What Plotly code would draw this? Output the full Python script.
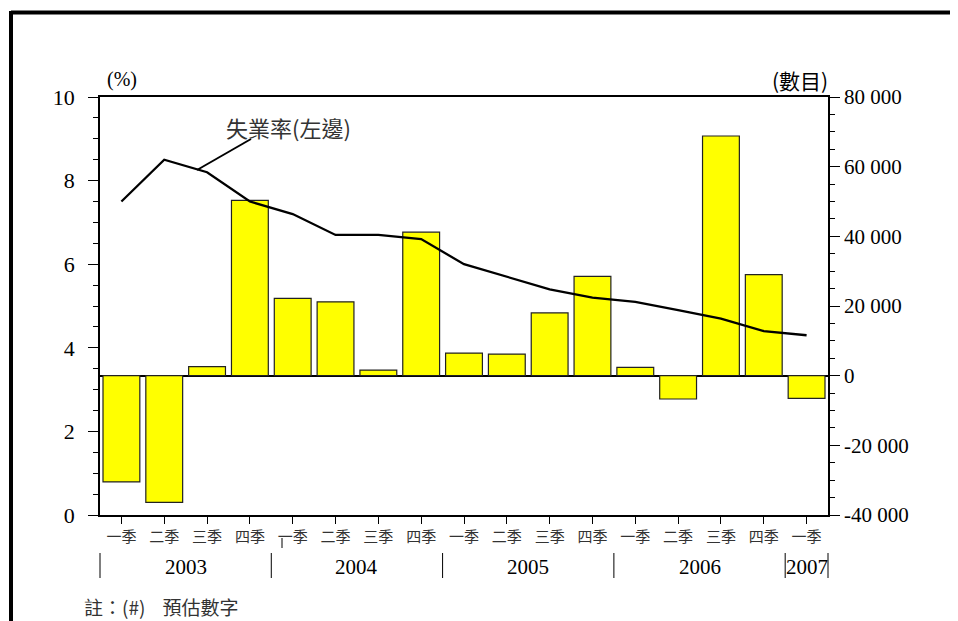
import plotly.graph_objects as go

# ---- data ----
years = ["2003"] * 4 + ["2004"] * 4 + ["2005"] * 4 + ["2006"] * 4 + ["2007"]
quarters = ["一季", "二季", "三季", "四季"] * 4 + ["一季"]
net_change = [-30500, -36400, 2600, 50300, 22200, 21200, 1600, 41200,
              6500, 6200, 18000, 28500, 2400, -6700, 68800, 29000, -6500]
unemp_rate = [7.5, 8.5, 8.2, 7.5, 7.2, 6.7, 6.7, 6.6,
              6.0, 5.7, 5.4, 5.2, 5.1, 4.9, 4.7, 4.4, 4.3]
year_groups = ["2003", "2004", "2005", "2006", "2007"]
right_ticks = [-40000, -20000, 0, 20000, 40000, 60000, 80000]
right_tick_text = ["-40 000", "-20 000", "0", "20 000", "40 000", "60 000", "80 000"]

cats = [f"{y}{q}" for y, q in zip(years, quarters)]
n = len(cats)

SERIF = "Liberation Serif, Times New Roman, serif"
CJK = "Noto Sans CJK TC, Noto Sans CJK SC, sans-serif"

fig = go.Figure()
fig.add_trace(go.Bar(
    x=cats, y=net_change, yaxis="y",
    marker=dict(color="#FFFF00", line=dict(color="#222222", width=1.2)),
    width=0.86, showlegend=False,
))
fig.add_trace(go.Scatter(
    x=cats, y=unemp_rate, yaxis="y2", mode="lines",
    line=dict(color="black", width=2.3), showlegend=False,
))

# page body has an 8px margin, so the figure is 950x613 and offset by 8px
fig.update_layout(
    width=950, height=613,
    margin=dict(l=92, r=130, t=89, b=106),
    paper_bgcolor="white", plot_bgcolor="white",
    xaxis=dict(
        type="category", range=[-0.5, n - 0.5],
        tickmode="array", tickvals=cats, ticktext=quarters,
        ticks="outside", ticklen=7, tickwidth=1, tickcolor="black",
        tickfont=dict(family=CJK, size=15, color="#333333"),
        showline=True, linecolor="black", linewidth=1.5, mirror=True,
        showgrid=False, zeroline=False,
    ),
    yaxis=dict(
        side="right", range=[-40000, 80000],
        tickmode="array", tickvals=right_ticks, ticktext=right_tick_text,
        ticks="outside", ticklen=10, tickwidth=1, tickcolor="black",
        minor=dict(ticks="outside", ticklen=5, dtick=5000, tickcolor="black", showgrid=False),
        tickfont=dict(family=SERIF, size=21, color="black"),
        showline=True, linecolor="black", linewidth=1.5,
        showgrid=False, zeroline=True, zerolinecolor="black", zerolinewidth=1.5,
    ),
    yaxis2=dict(
        side="left", overlaying="y", range=[0, 10], dtick=2,
        ticks="outside", ticklen=10, tickwidth=1, tickcolor="black",
        minor=dict(ticks="outside", ticklen=5, dtick=0.5, tickcolor="black", showgrid=False),
        tickfont=dict(family=SERIF, size=22, color="black"),
        ticklabelstandoff=9,
        showline=True, linecolor="black", linewidth=1.5,
        showgrid=False, zeroline=False,
    ),
)

def px_x(p):
    return (p - 100) / 728.0

def px_y(p):
    return (515 - p) / 418.0

def label(text, x, y, family, size, color="black", xanchor="center"):
    return dict(text=text, x=x, y=y, xref="paper", yref="paper",
                xanchor=xanchor, yanchor="middle", showarrow=False,
                font=dict(family=family, size=size, color=color))

annotations = [
    label("(%)", px_x(122), px_y(80), SERIF, 20),
    label("(數目)", px_x(800), px_y(80), CJK, 21),
    label("失業率(左邊)", px_x(288), px_y(127), CJK, 22, "#333333"),
    label("註：(#)\u00a0\u00a0\u00a0\u00a0預估數字", px_x(82), px_y(606), CJK, 19, "#333333", xanchor="left"),
]

shapes = [
    # leader line for the line label
    dict(type="line", xref="paper", yref="paper",
         x0=px_x(197), y0=px_y(170), x1=px_x(251), y1=px_y(139),
         line=dict(color="black", width=2)),
    # outer frame (left and top edges visible)
    dict(type="line", xref="paper", yref="paper",
         x0=px_x(11), y0=px_y(12.5), x1=px_x(975), y1=px_y(12.5),
         line=dict(color="black", width=4)),
    dict(type="line", xref="paper", yref="paper",
         x0=px_x(11), y0=px_y(11), x1=px_x(11), y1=px_y(640),
         line=dict(color="black", width=4)),
    # small mark near 2004 first quarter label
    dict(type="line", xref="paper", yref="paper",
         x0=px_x(282), y0=px_y(538), x1=px_x(282), y1=px_y(548),
         line=dict(color="black", width=1)),
]

# year group labels and dividers
idx = 0
bounds = [-0.5]
for g in year_groups:
    cnt = years.count(g)
    center = idx + (cnt - 1) / 2.0
    annotations.append(label(g, (center + 0.5) / n, px_y(567), SERIF, 21))
    idx += cnt
    bounds.append(idx - 0.5)

for b in bounds:
    shapes.append(dict(type="line", xref="paper", yref="paper",
                       x0=(b + 0.5) / n, x1=(b + 0.5) / n,
                       y0=px_y(553), y1=px_y(578),
                       line=dict(color="black", width=1)))

fig.update_layout(annotations=annotations, shapes=shapes)
fig.write_html("out.html")
